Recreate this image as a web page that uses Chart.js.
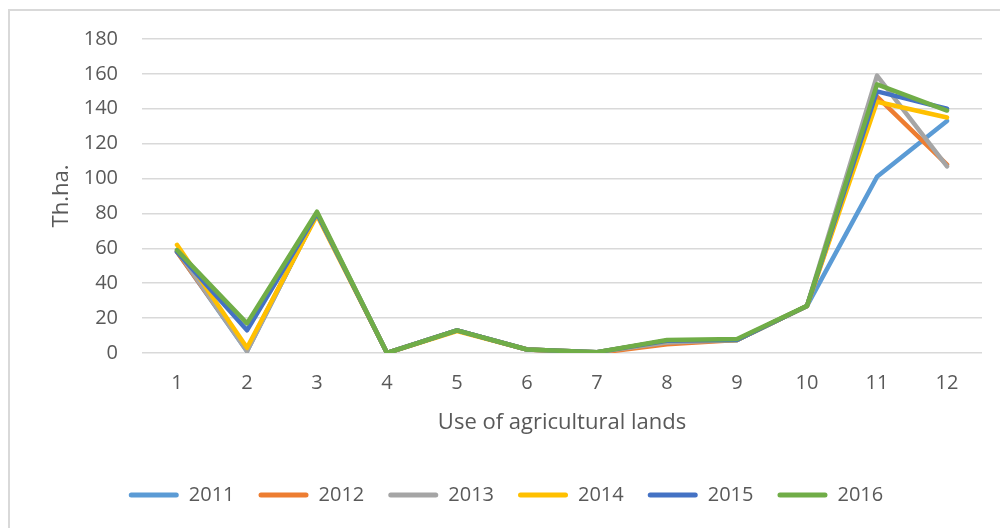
<!DOCTYPE html>
<html>
<head>
<meta charset="utf-8">
<script src="https://cdn.jsdelivr.net/npm/chart.js@4/dist/chart.umd.min.js"></script>
<style>
  html, body { margin: 0; padding: 0; background: #ffffff; }
  #wrap { width: 1000px; height: 528px; }
</style>
</head>
<body>
<div id="wrap"><canvas id="landChart" width="1000" height="528"></canvas></div>
<script>
// Land use categories (1..12) and yearly areas, thousand hectares
const categories = ['1', '2', '3', '4', '5', '6', '7', '8', '9', '10', '11', '12'];
const years = ['2011', '2012', '2013', '2014', '2015', '2016'];
const values2011 = [58, 1, 80, 0, 13, 2, 0.5, 7, 7.5, 27, 101, 133];
const values2012 = [58, 2, 80, 0, 13, 2, 0, 5, 7.5, 27, 147, 108];
const values2013 = [59, 1, 80, 0, 13, 2, 0.5, 6, 7.5, 27, 159, 107];
const values2014 = [62, 3, 79, 0, 12.5, 2, 0.5, 7, 7.5, 27, 144, 135];
const values2015 = [58, 13, 80, 0, 13, 2, 0.5, 7, 7.5, 27, 150, 140];
const values2016 = [59, 17, 81, 0, 13, 2, 0.5, 7.5, 8, 27, 154, 139];
const yTicks = [0, 20, 40, 60, 80, 100, 120, 140, 160, 180];

const seriesValues = [values2011, values2012, values2013, values2014, values2015, values2016];
const colors = ['#5B9BD5', '#ED7D31', '#A5A5A5', '#FFC000', '#4472C4', '#70AD47'];
const textColor = '#595959';
const gridColor = '#d9d9d9';
const fontFamily = '"Open Sans", "Liberation Sans", sans-serif';

// thin frame on the left and top, like the office chart box
const framePlugin = {
    id: 'frame',
    beforeDraw(chart) {
        const ctx = chart.ctx;
        ctx.save();
        ctx.strokeStyle = gridColor;
        ctx.lineWidth = 2;
        ctx.beginPath();
        ctx.moveTo(9, 528);
        ctx.lineTo(9, 10);
        ctx.lineTo(1000, 10);
        ctx.stroke();
        ctx.restore();
    }
};

// later years are drawn over earlier ones (lower order = on top)
const datasets = years.map(function (year, i) {
    return {
        label: year,
        data: seriesValues[i],
        order: years.length - 1 - i,
        borderColor: colors[i],
        backgroundColor: colors[i],
        borderWidth: 4.5,
        borderJoinStyle: 'round',
        borderCapStyle: 'round',
        pointRadius: 0,
        pointHoverRadius: 0,
        tension: 0,
        fill: false
    };
});

new Chart(document.getElementById('landChart'), {
    type: 'line',
    data: { labels: categories, datasets: datasets },
    plugins: [framePlugin],
    options: {
        responsive: false,
        animation: false,
        devicePixelRatio: 1,
        layout: { padding: { top: 39, right: 18, bottom: 13, left: 30 } },
        plugins: {
            tooltip: { enabled: false },
            legend: {
                position: 'bottom',
                labels: {
                    boxWidth: 50,
                    boxHeight: 5,
                    padding: 24,
                    color: textColor,
                    font: { family: fontFamily, size: 20 },
                    generateLabels(chart) {
                        return chart.data.datasets.map(function (ds, i) {
                            return {
                                text: ds.label,
                                fillStyle: ds.borderColor,
                                strokeStyle: ds.borderColor,
                                lineWidth: 0,
                                borderRadius: 2.5,
                                fontColor: textColor,
                                datasetIndex: i
                            };
                        });
                    }
                }
            }
        },
        scales: {
            x: {
                offset: true,
                grid: { display: false },
                border: { display: false },
                ticks: {
                    padding: 10,
                    color: textColor,
                    font: { family: fontFamily, size: 20 }
                },
                title: {
                    display: true,
                    text: 'Use of agricultural lands',
                    color: textColor,
                    font: { family: fontFamily, size: 22 },
                    padding: { top: 0, bottom: 25 }
                },
                afterFit(scale) { scale.height = 108; }
            },
            y: {
                min: 0,
                max: 180,
                afterBuildTicks(scale) {
                    scale.ticks = yTicks.map(function (v) { return { value: v }; });
                },
                grid: { color: gridColor, lineWidth: 1.5, drawTicks: false },
                border: { display: false },
                ticks: {
                    padding: 24,
                    color: textColor,
                    font: { family: fontFamily, size: 20 }
                },
                title: {
                    display: true,
                    text: 'Th.ha.',
                    color: textColor,
                    font: { family: fontFamily, size: 22 },
                    padding: { top: 19, bottom: 0 }
                },
                afterFit(scale) { scale.width = 112; }
            }
        }
    }
});
</script>
</body>
</html>
